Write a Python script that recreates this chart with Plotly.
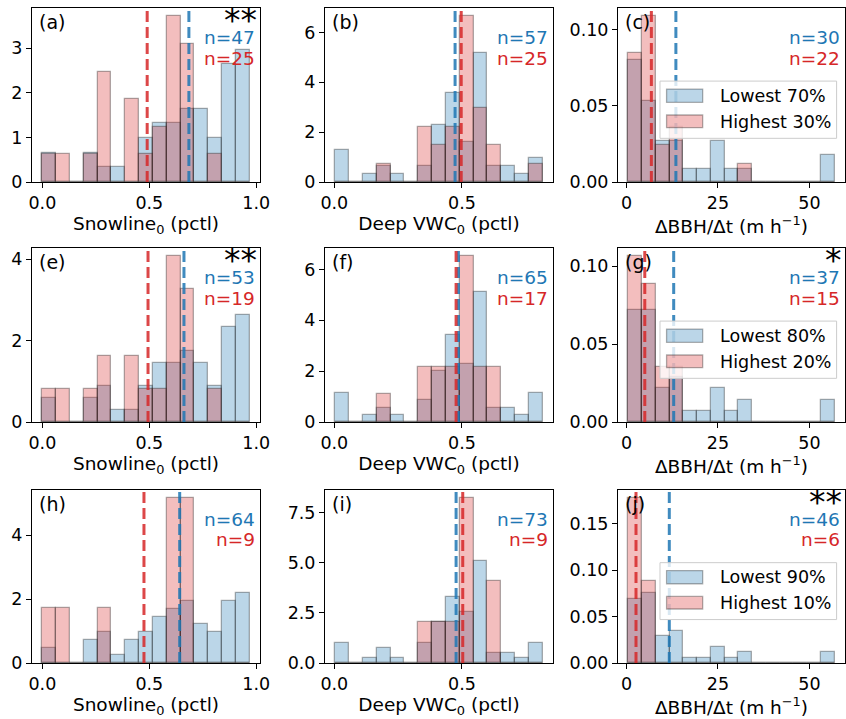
import numpy as np
import plotly.graph_objects as go
from plotly.subplots import make_subplots

# ---- histogram bins: 15 equal-width bins per variable (lo, hi) ----
N_BINS = 15
SNOW_RANGE = (0.0, 0.969)
VWC_RANGE = (0.004, 0.816)
BBH_RANGE = (0.5, 56.9)

# ---- per-bin counts: lower group (blue) / upper group (red) ----
# row 1: 70% / 30% split
a_low = [2, 0, 0, 2, 1, 1, 0, 3, 4, 4, 5, 5, 3, 8, 9]
a_high = [1, 1, 0, 1, 4, 0, 3, 1, 2, 6, 5, 0, 1, 0, 0]
b_low = [4, 0, 1, 2, 1, 0, 2, 7, 11, 5, 16, 2, 2, 1, 3]
b_high = [0, 0, 0, 1, 0, 0, 3, 2, 3, 9, 4, 2, 0, 0, 1]
c_low = [9, 6, 3, 3, 1, 1, 3, 1, 1, 0, 0, 0, 0, 0, 2]
c_high = [7, 9, 2, 3, 0, 0, 0, 0, 1, 0, 0, 0, 0, 0, 0]
# row 2: 80% / 20% split
e_low = [2, 0, 0, 2, 3, 1, 1, 3, 5, 5, 6, 5, 3, 8, 9]
e_high = [1, 1, 0, 1, 2, 0, 2, 1, 1, 5, 4, 0, 1, 0, 0]
f_low = [4, 0, 1, 2, 1, 0, 3, 7, 12, 8, 18, 2, 2, 1, 4]
f_high = [0, 0, 0, 1, 0, 0, 2, 2, 2, 6, 2, 2, 0, 0, 0]
g_low = [10, 10, 3, 4, 1, 1, 3, 1, 2, 0, 0, 0, 0, 0, 2]
g_high = [6, 5, 2, 2, 0, 0, 0, 0, 0, 0, 0, 0, 0, 0, 0]
# row 3: 90% / 10% split
h_low = [2, 0, 0, 3, 4, 1, 3, 4, 6, 7, 8, 5, 4, 8, 9]
h_high = [1, 1, 0, 0, 1, 0, 0, 0, 0, 3, 3, 0, 0, 0, 0]
i_low = [4, 0, 1, 3, 1, 0, 4, 8, 13, 10, 20, 2, 2, 1, 4]
i_high = [0, 0, 0, 0, 0, 0, 1, 1, 1, 4, 0, 2, 0, 0, 0]
j_low = [12, 13, 5, 6, 1, 1, 3, 1, 2, 0, 0, 0, 0, 0, 2]
j_high = [4, 2, 0, 0, 0, 0, 0, 0, 0, 0, 0, 0, 0, 0, 0]

# ---- group medians (dashed lines): (lower group, upper group) ----
a_med = (0.685, 0.490)
b_med = (0.473, 0.497)
c_med = (13.5, 6.8)
e_med = (0.662, 0.494)
f_med = (0.486, 0.477)
g_med = (12.9, 5.0)
h_med = (0.642, 0.475)
i_med = (0.477, 0.503)
j_med = (11.7, 2.6)

# ---- labels ----
PANEL_TAGS = ["(a)", "(b)", "(c)", "(e)", "(f)", "(g)", "(h)", "(i)", "(j)"]
SIGNIF = ["**", "", "", "**", "", "*", "", "", "**"]
SNOW_LABEL = "Snowline<sub>0</sub> (pctl)"
VWC_LABEL = "Deep VWC<sub>0</sub> (pctl)"
BBH_LABEL = "ΔBBH/Δt (m h<sup>−1</sup>)"
LEGEND_LABELS = [("Lowest 70%", "Highest 30%"),
                 ("Lowest 80%", "Highest 20%"),
                 ("Lowest 90%", "Highest 10%")]

panels = [
    (a_low, a_high, a_med, SNOW_RANGE, SNOW_LABEL),
    (b_low, b_high, b_med, VWC_RANGE, VWC_LABEL),
    (c_low, c_high, c_med, BBH_RANGE, BBH_LABEL),
    (e_low, e_high, e_med, SNOW_RANGE, SNOW_LABEL),
    (f_low, f_high, f_med, VWC_RANGE, VWC_LABEL),
    (g_low, g_high, g_med, BBH_RANGE, BBH_LABEL),
    (h_low, h_high, h_med, SNOW_RANGE, SNOW_LABEL),
    (i_low, i_high, i_med, VWC_RANGE, VWC_LABEL),
    (j_low, j_high, j_med, BBH_RANGE, BBH_LABEL),
]
Y_DTICK = [1, 2, 0.05, 2, 2, 0.05, 2, 2.5, 0.05]
Y_FMT = ["d", "d", ".2f", "d", "d", ".2f", "d", ".1f", ".2f"]

# ---- style ----
W, H = 846, 719
COL_PX = [(32, 260), (325, 553), (618, 845)]
ROW_PX = [(8, 182), (248, 422), (490, 663)]
BLUE, RED = "#1f77b4", "#d62728"
BLUE_FILL, RED_FILL = "rgba(31,119,180,0.3)", "rgba(214,39,40,0.3)"
EDGE = "rgba(30,30,30,0.35)"
FONT = "DejaVu Sans"
TICK_SIZE, LABEL_SIZE, TEXT_SIZE = 17.5, 18.5, 18.5

fig = make_subplots(rows=3, cols=3)

for k, (low, high, med, rng, xlabel) in enumerate(panels):
    r, c = divmod(k, 3)
    row, col = r + 1, c + 1
    xa = "x" if k == 0 else f"x{k + 1}"
    ya = "y" if k == 0 else f"y{k + 1}"

    edges = np.linspace(rng[0], rng[1], N_BINS + 1)
    bw = edges[1] - edges[0]
    centers = (edges[:-1] + edges[1:]) / 2
    low = np.asarray(low, float)
    high = np.asarray(high, float)
    n_low, n_high = int(low.sum()), int(high.sum())
    # density-normalised histograms
    d_low = low / (n_low * bw)
    d_high = high / (n_high * bw)

    for dens, fill in ((d_low, BLUE_FILL), (d_high, RED_FILL)):
        fig.add_trace(go.Bar(x=centers, y=dens, width=bw,
                             marker=dict(color=fill, line=dict(color=EDGE, width=1.3)),
                             showlegend=False, hoverinfo="skip"),
                      row=row, col=col)

    # dashed median lines spanning the full axis height
    for m, colr in ((med[0], "rgba(31,119,180,0.85)"), (med[1], "rgba(214,39,40,0.85)")):
        fig.add_shape(type="line", xref=xa, yref=f"{ya} domain",
                      x0=m, x1=m, y0=0, y1=1, layer="above",
                      line=dict(color=colr, width=3, dash="11px,5px"))

    span = rng[1] - rng[0]
    xr = [rng[0] - 0.05 * span, rng[1] + 0.05 * span]
    ymax = 1.05 * max(d_low.max(), d_high.max())
    x0p, x1p = COL_PX[c]
    y0p, y1p = ROW_PX[r]

    xdtick = 25 if rng == BBH_RANGE else 0.5
    xfmt = "d" if rng == BBH_RANGE else ".1f"
    fig.update_xaxes(range=xr, domain=[x0p / W, x1p / W], dtick=xdtick, tick0=0,
                     tickformat=xfmt, row=row, col=col,
                     title=dict(text=xlabel, font=dict(size=LABEL_SIZE, color="black"), standoff=4))
    fig.update_yaxes(range=[0, ymax], domain=[1 - y1p / H, 1 - y0p / H],
                     dtick=Y_DTICK[k], tick0=0, tickformat=Y_FMT[k], row=row, col=col)

    xd, yd = f"{xa} domain", f"{ya} domain"
    fig.add_annotation(xref=xd, yref=yd, x=0.023, y=0.917, text=PANEL_TAGS[k],
                       xanchor="left", yanchor="middle", showarrow=False,
                       font=dict(size=19, color="black"))
    fig.add_annotation(xref=xd, yref=yd, x=0.988, y=0.83, text=f"n={n_low}",
                       xanchor="right", yanchor="middle", showarrow=False,
                       font=dict(size=TEXT_SIZE, color=BLUE))
    fig.add_annotation(xref=xd, yref=yd, x=0.988, y=0.712, text=f"n={n_high}",
                       xanchor="right", yanchor="middle", showarrow=False,
                       font=dict(size=TEXT_SIZE, color=RED))
    if SIGNIF[k]:
        fig.add_annotation(xref=xd, yref=yd, x=0.995, y=0.93, text=SIGNIF[k],
                           xanchor="right", yanchor="middle", showarrow=False,
                           font=dict(size=33, color="black"))

    # legend box in the right-hand column
    if c == 2:
        lo_lab, hi_lab = LEGEND_LABELS[r]
        fig.add_shape(type="rect", xref=xd, yref=yd, x0=0.185, x1=0.963, y0=0.251, y1=0.580,
                      fillcolor="rgba(255,255,255,0.8)", line=dict(color="#cccccc", width=1),
                      layer="above")
        for (py0, py1), fill in (((0.458, 0.534), BLUE_FILL), ((0.312, 0.385), RED_FILL)):
            fig.add_shape(type="rect", xref=xd, yref=yd, x0=0.214, x1=0.373, y0=py0, y1=py1,
                          fillcolor=fill, line=dict(color=EDGE, width=1.3), layer="above")
        for ty, lab in ((0.496, lo_lab), (0.347, hi_lab)):
            fig.add_annotation(xref=xd, yref=yd, x=0.439, y=ty, text=lab,
                               xanchor="left", yanchor="middle", showarrow=False,
                               font=dict(size=17.5, color="black"))

fig.update_xaxes(ticks="outside", ticklen=5, tickwidth=1, tickcolor="black",
                 showline=True, linecolor="black", linewidth=1, mirror=True,
                 showgrid=False, zeroline=False, automargin=False,
                 tickfont=dict(size=TICK_SIZE, color="black"))
fig.update_yaxes(ticks="outside", ticklen=5, tickwidth=1, tickcolor="black",
                 showline=True, linecolor="black", linewidth=1, mirror=True,
                 showgrid=False, zeroline=False, automargin=False,
                 tickfont=dict(size=TICK_SIZE, color="black"))

fig.update_layout(template="none", width=W, height=H,
                  margin=dict(l=0, r=0, t=0, b=0),
                  barmode="overlay", bargap=0,
                  plot_bgcolor="white", paper_bgcolor="white",
                  font=dict(family=FONT, color="black"),
                  showlegend=False)

fig.write_html("out.html")
